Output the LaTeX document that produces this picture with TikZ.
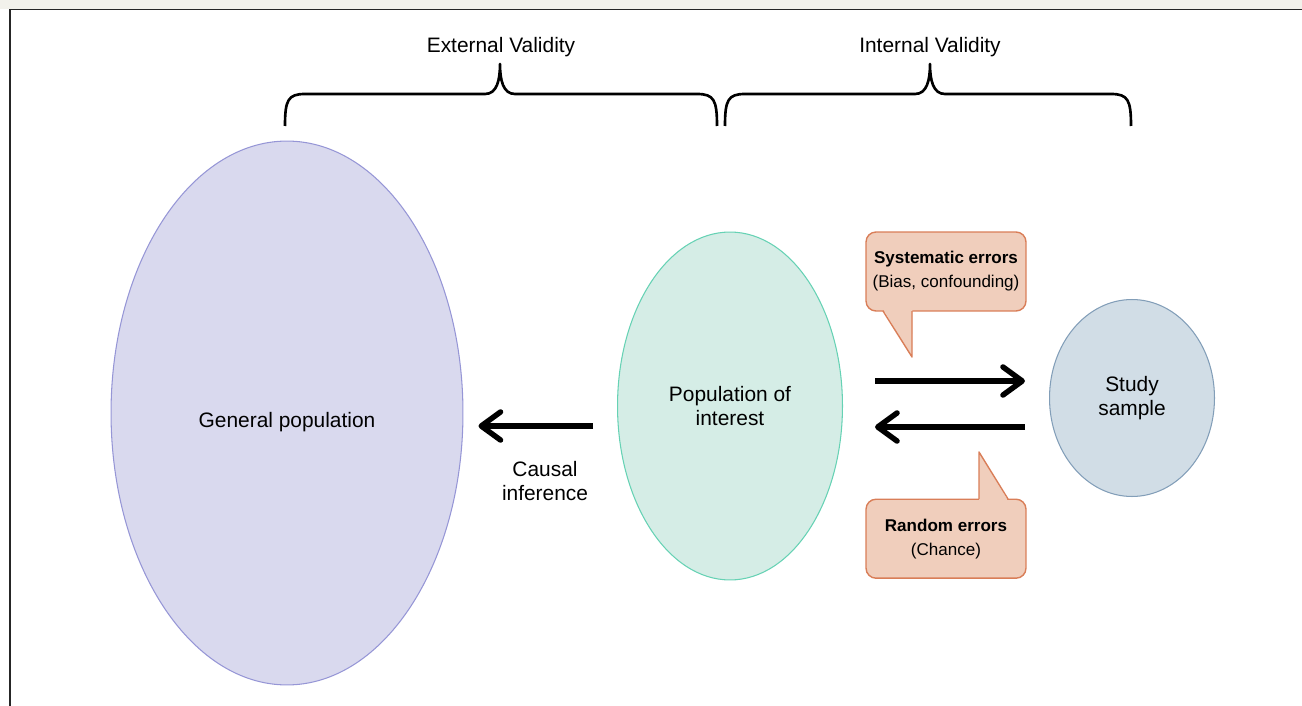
\documentclass[tikz,border=0pt]{standalone}
\usepackage{fontspec}
\setmainfont{Liberation Sans}
\usetikzlibrary{positioning,arrows.meta,shapes.geometric,calc}
\definecolor{bandcol}{RGB}{242,241,235}
\definecolor{genfill}{RGB}{217,217,238}
\definecolor{gendraw}{RGB}{150,150,214}
\definecolor{poifill}{RGB}{213,237,230}
\definecolor{poidraw}{RGB}{102,210,180}
\definecolor{stdfill}{RGB}{209,221,230}
\definecolor{stddraw}{RGB}{130,158,184}
\definecolor{calfill}{RGB}{240,206,188}
\definecolor{caldraw}{RGB}{217,126,88}

\begin{document}
\begin{tikzpicture}[x=0.02cm,y=-0.02cm,
  pop/.style={ellipse,inner sep=0pt,line width=0.6pt,align=center,
              font=\fontsize{11.9}{13.6}\selectfont},
  lbl/.style={align=center,inner sep=0pt,font=\fontsize{11.9}{13.6}\selectfont},
  callbox/.style={rectangle,rounded corners=0.2cm,draw=caldraw,fill=calfill,
              line width=0.8pt,minimum width=3.2cm,minimum height=1.58cm,
              align=center,font=\fontsize{9.7}{13.6}\selectfont},
  bigarr/.style={line width=3.1pt,-{Straight Barb[round,length=11pt,width=16pt]}},
  brace/.style={line width=1.5pt,line join=round}
]
\useasboundingbox (0,0) rectangle (1302,706);
% frame
\fill[bandcol] (0,0) rectangle (1302,9.5);
\draw[line width=1pt,black!85] (10,706) -- (10,9.5) -- (1302,9.5);

% populations
\node[pop,fill=genfill,draw=gendraw,minimum width=7.04cm,minimum height=10.88cm]
  (gen) at (287,413) {\raisebox{-5pt}[\height][\depth]{General population}};
\node[pop,fill=poifill,draw=poidraw,minimum width=4.5cm,minimum height=6.96cm]
  (poi) at (730,406) {Population of\\interest};
\node[pop,fill=stdfill,draw=stddraw,minimum width=3.3cm,minimum height=3.94cm]
  (study) at (1132,398) {Study\\sample};

% braces
\draw[brace] (285,126) .. controls (285,100) and (288,94) .. (305,94) -- (485,94)
  .. controls (497,94) and (500,80) .. (500,64)
  .. controls (500,80) and (503,94) .. (515,94) -- (697,94)
  .. controls (714,94) and (717,100) .. (717,126);
\draw[brace] (725,126) .. controls (725,100) and (728,94) .. (745,94) -- (915,94)
  .. controls (927,94) and (930,80) .. (930,64)
  .. controls (930,80) and (933,94) .. (945,94) -- (1111,94)
  .. controls (1128,94) and (1131,100) .. (1131,126);
\node[lbl] (extval) at (501,47) {External Validity};
\node[lbl] (intval) at (930,47) {Internal Validity};

% arrows
\draw[bigarr] ($(poi.west)+(-24,20)$) -- ($(gen.east)+(15,13)$);
\node[lbl] (causal) at (545,481) {Causal\\inference};
\draw[bigarr] ($(poi.east)+(32,-25)$) -- ($(study.west)+(-24,-17)$);
\draw[bigarr] ($(study.west)+(-24,29)$) -- ($(poi.east)+(32,21)$);

% callouts
\node[callbox] (syserr) at (946,271.5)
  {\textbf{Systematic errors}\\(Bias, confounding)};
\fill[calfill] (883,309) -- (912,357) -- (912.5,309) -- cycle;
\draw[caldraw,line width=0.8pt,line join=round] (883,311) -- (912,357) -- (912,311);
\node[callbox] (randerr) at (946,538.7)
  {\textbf{Random errors}\\(Chance)};
\fill[calfill] (979,501) -- (979,452) -- (1008,501) -- cycle;
\draw[caldraw,line width=0.8pt,line join=round] (979,499) -- (979,452) -- (1008,499);
\end{tikzpicture}
\end{document}
